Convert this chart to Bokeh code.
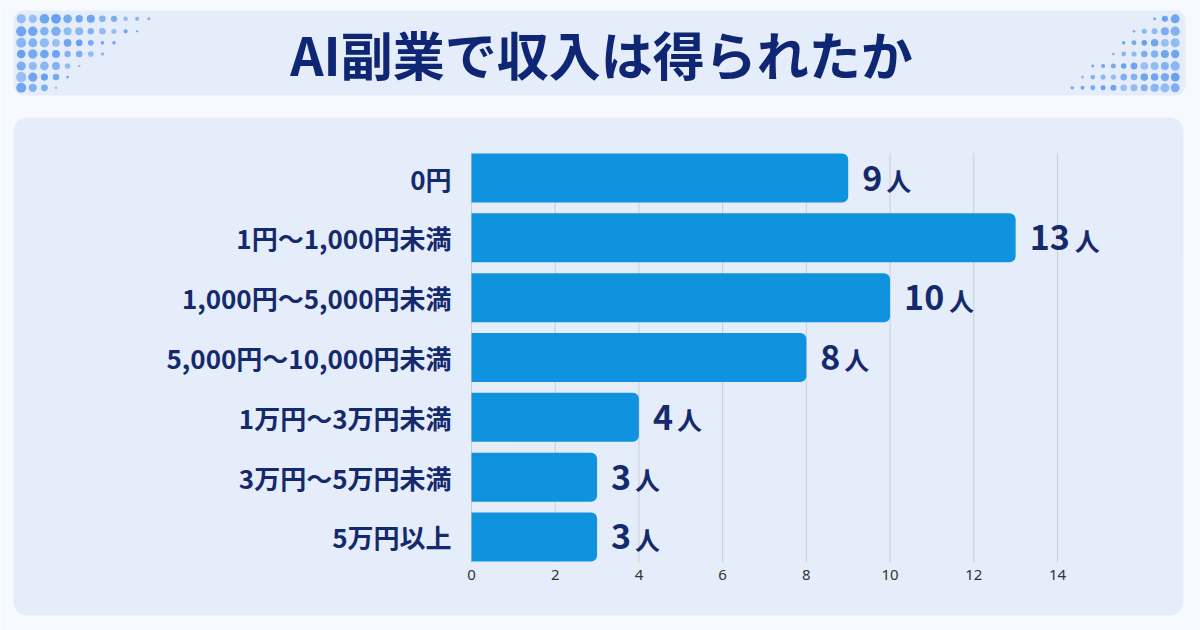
from bokeh.plotting import figure
from bokeh.models import Range1d, FixedTicker, ColumnDataSource
from bokeh.core.properties import value
from bokeh.embed import file_html
from bokeh.resources import INLINE

# ---------------- data ----------------
title_text = "AI副業で収入は得られたか"
categories = ["0円", "1円～1,000円未満", "1,000円～5,000円未満", "5,000円～10,000円未満",
              "1万円～3万円未満", "3万円～5万円未満", "5万円以上"]
counts = [9, 13, 10, 8, 4, 3, 3]
unit_label = "人"
x_ticks = [0, 2, 4, 6, 8, 10, 12, 14]

# ---------------- style ----------------
PAGE = "#f6f9fe"
PANEL = "#e5edfb"
NAVY = "#15296d"
TITLE_NAVY = "#0e2673"
BAR = "#1093df"
GRID = "#c8cdd8"
JP = "Noto Sans CJK JP"
BAR_H = 0.82

n = len(categories)
ypos = [float(n - 1 - i) for i in range(n)]          # first category on top

# ---------------- figure (frame = whole canvas) ----------------
p = figure(width=1200, height=630,
           x_range=Range1d(-11.2526, 17.4164), y_range=Range1d(-1.5627, 8.9666),
           output_backend="svg", toolbar_location=None, min_border=0,
           outline_line_color=None, background_fill_color=PAGE, border_fill_color=PAGE)
# pixel-space ranges for decoration only
p.extra_x_ranges = {"px": Range1d(0, 1200)}
p.extra_y_ranges = {"px": Range1d(630, 0)}
PX = dict(x_range_name="px", y_range_name="px")

# panels
p.quad(left=[13], right=[1185], top=[10], bottom=[95], fill_color=PANEL,
       line_color=None, border_radius=10, **PX)
p.quad(left=[13], right=[1183], top=[117], bottom=[615], fill_color=PANEL,
       line_color=None, border_radius=14, **PX)

# decorative dot clusters
dx, dy, ds, da = [], [], [], []
row_y = [18.3, 30.8, 42.3, 53.5, 65.5, 76.6, 87.3]
left_n = [12, 11, 9, 8, 6, 5, 4]
jit = [0.0, -0.8, 0.6, 1.0, 0.3, -0.5, 0.8, -0.2, 0.4, -0.6, 0.2, 0.0]
alp = [0.6, 0.85, 0.65, 0.9, 0.75, 0.55, 0.85, 0.7, 0.8, 0.6, 0.85, 0.7]
for r, (yy, cnt) in enumerate(zip(row_y, left_n)):
    for c in range(cnt):
        t = c / max(cnt - 1, 1)
        dx.append(20.7 + 11.6 * c)
        dy.append(yy)
        ds.append(max(2.2, 9.2 - 6.2 * t ** 2.0 + jit[(c + r * 3) % 12]))
        da.append(alp[(c * 5 + r) % 12])
right_start = [8, 6, 5, 4, 2, 1, 0]
for r, (yy, s) in enumerate(zip(row_y, right_start)):
    for c in range(s, 11):
        t = (c - s) / max(10 - s, 1)
        dx.append(1071.7 + 10.3 * c)
        dy.append(yy)
        ds.append(max(2.2, 2.8 + 6.0 * t ** 0.7 + 0.6 * jit[(c + r * 5) % 12]))
        da.append(alp[(c * 7 + r) % 12])
p.scatter(x=dx, y=dy, size=ds, fill_color="#5a98ef", fill_alpha=da, line_color=None, **PX)

# title
p.text(x=[601], y=[53], text=[title_text], text_font=value(JP), text_font_style="bold",
       text_font_size="52px", text_color=TITLE_NAVY, text_align="center",
       text_baseline="middle", **PX)

# ---------------- chart ----------------
src = ColumnDataSource(dict(
    y=ypos,
    count=counts,
    num=[str(c) for c in counts],
    unit=[unit_label] * n,
    unit_off=[17 + 21 * len(str(c)) for c in counts],
))

# vertical grid lines, spanning the bar block
g_lo = min(ypos) - BAR_H / 2 - 0.01
g_hi = max(ypos) + BAR_H / 2 + 0.01
p.segment(x0=x_ticks, x1=x_ticks, y0=[g_lo] * len(x_ticks), y1=[g_hi] * len(x_ticks),
          line_color=GRID, line_width=1)

p.hbar(y="y", left=0, right="count", height=BAR_H, source=src, fill_color=BAR,
       line_color=None, border_radius=(0, 6, 6, 0))

p.text(x="count", y="y", text="num", source=src, x_offset=14, text_font=value(JP),
       text_font_style="bold", text_font_size="34px", text_color=NAVY,
       text_align="left", text_baseline="middle")
p.text(x="count", y="y", text="unit", source=src, x_offset="unit_off", y_offset=2,
       text_font=value(JP), text_font_style="bold", text_font_size="25px",
       text_color=NAVY, text_align="left", text_baseline="middle")

# axes placed inside the frame
p.xgrid.visible = False
p.ygrid.visible = False

xa = p.xaxis[0]
xa.fixed_location = g_lo
xa.ticker = FixedTicker(ticks=x_ticks)
xa.axis_line_color = None
xa.major_tick_line_color = None
xa.minor_tick_line_color = None
xa.major_tick_out = 0
xa.major_tick_in = 0
xa.major_label_standoff = 8
xa.major_label_text_font = "Noto Sans"
xa.major_label_text_font_size = "15px"
xa.major_label_text_color = "#333333"

ya = p.yaxis[0]
ya.fixed_location = 0
ya.ticker = FixedTicker(ticks=ypos)
ya.major_label_overrides = {yv: c for yv, c in zip(ypos, categories)}
ya.axis_line_color = None
ya.major_tick_line_color = None
ya.minor_tick_line_color = None
ya.major_tick_out = 0
ya.major_tick_in = 0
ya.major_label_standoff = 20
ya.major_label_text_font = JP
ya.major_label_text_font_style = "bold"
ya.major_label_text_font_size = "26px"
ya.major_label_text_color = NAVY

open("out.html", "w").write(file_html(p, INLINE))
